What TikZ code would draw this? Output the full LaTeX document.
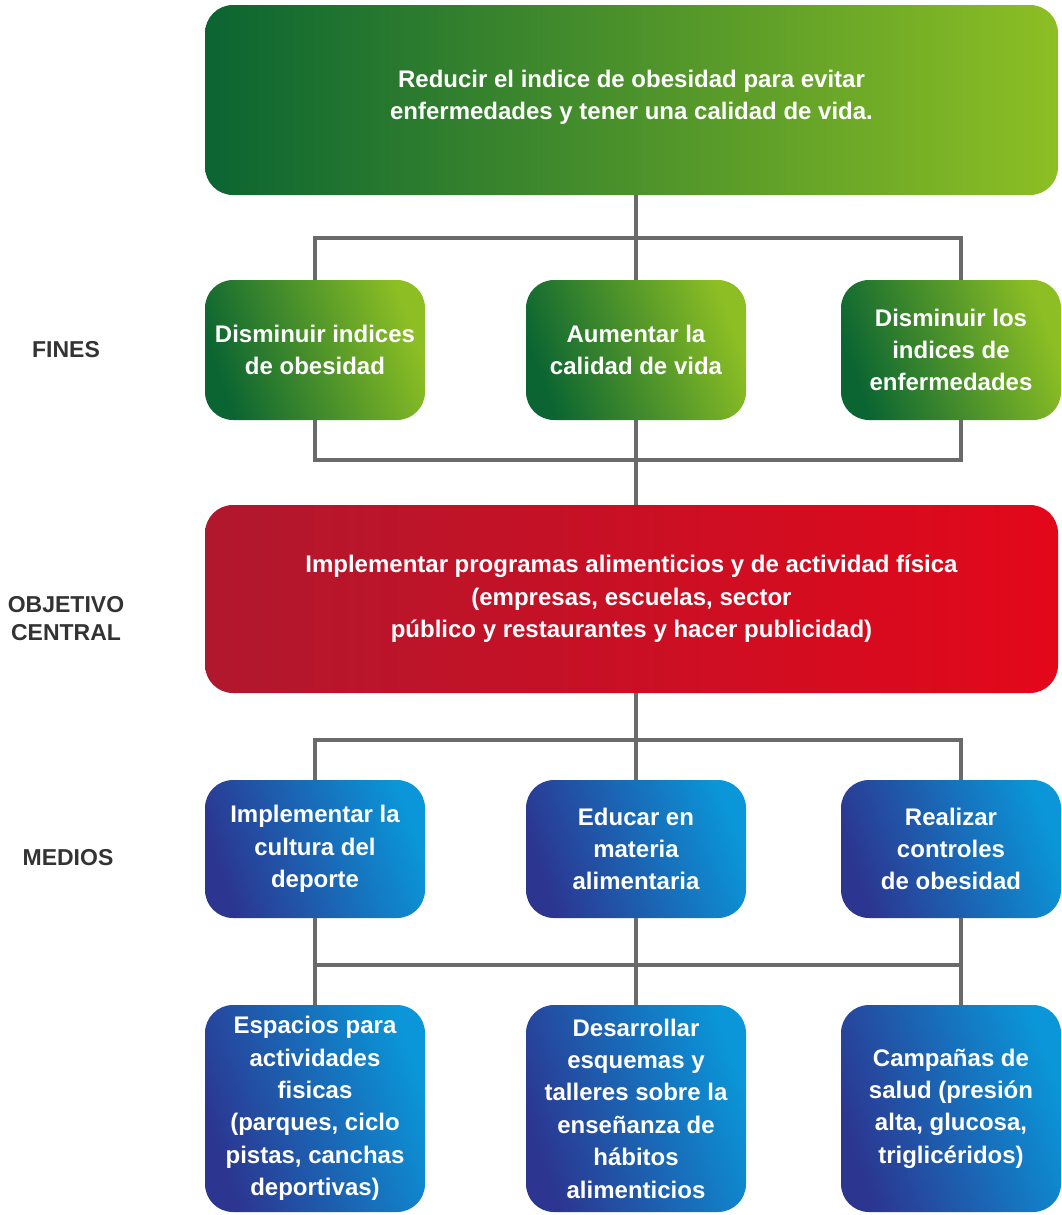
\documentclass[tikz,border=0pt]{standalone}
\usepackage{fontspec}
\setmainfont{Liberation Sans}
\usepackage{tikz}
\usetikzlibrary{
  positioning,
  calc
}
\definecolor{obGreen}{HTML}{0B6532}
\definecolor{obLime}{HTML}{8DBF24}
\definecolor{obWine}{HTML}{B0182E}
\definecolor{obRed}{HTML}{E3071A}
\definecolor{obNavy}{HTML}{2C3590}
\definecolor{obCyan}{HTML}{0A96D8}
\definecolor{obLine}{HTML}{6A6A6A}
\definecolor{obText}{HTML}{333333}
\tikzset{
  obnode/.style={
    rounded corners=14pt, align=center, text=white, inner sep=2pt,
    font=\bfseries\fontsize{12}{16.2}\selectfont
  },
  goalbox/.style={obnode, left color=obGreen, right color=obLime, minimum width=426.5pt, minimum height=95pt},
  finbox/.style={obnode, left color=obGreen, right color=obLime, shading angle=110, minimum width=110pt, minimum height=70pt},
  centralbox/.style={obnode, left color=obWine, right color=obRed, minimum width=426.5pt, minimum height=94pt},
  medbox/.style={obnode, left color=obNavy, right color=obCyan, shading angle=110, minimum width=110pt, minimum height=69pt},
  actbox/.style={medbox, minimum height=103.5pt},
  link/.style={draw=obLine, line width=2.2pt},
  rowlabel/.style={font=\bfseries\fontsize{11.5}{14}\selectfont, text=obText, align=center}
}
\begin{document}
\begin{tikzpicture}[x=0.5pt, y=-0.5pt]
  \useasboundingbox (0,0) rectangle (1061,1215);
  % row labels
  \node[rowlabel] (lfin) at (66,350) {FINES};
  \node[rowlabel] (lobj) at (66,619) {OBJETIVO\\CENTRAL};
  \node[rowlabel] (lmed) at (68,858) {MEDIOS};
  % boxes
  \node[goalbox] (goal) at (631.5,100) {Reducir el indice de obesidad para evitar\\enfermedades y tener una calidad de vida.\\[-11pt]};
  \node[finbox] (fin1) at (315,350) {Disminuir indices\\de obesidad};
  \node[finbox] (fin2) at (636,350) {Aumentar la\\calidad de vida};
  \node[finbox] (fin3) at (951,350) {Disminuir los\\indices de\\enfermedades};
  \node[centralbox] (obj) at (631.5,599) {Implementar programas alimenticios y de actividad física\\(empresas, escuelas, sector\\público y restaurantes y hacer publicidad)};
  \node[medbox] (med1) at (315,849) {Implementar la\\cultura del\\deporte};
  \node[medbox] (med2) at (636,849) {Educar en\\materia\\alimentaria};
  \node[medbox] (med3) at (951,849) {Realizar\\controles\\de obesidad};
  \node[actbox] (act1) at (315,1108.5) {Espacios para\\actividades\\fisicas\\(parques, ciclo\\pistas, canchas\\deportivas)};
  \node[actbox] (act2) at (636,1108.5) {Desarrollar\\esquemas y\\talleres sobre la\\enseñanza de\\hábitos\\alimenticios};
  \node[actbox] (act3) at (951,1108.5) {Campañas de\\salud (presión\\alta, glucosa,\\triglicéridos)};
  % connectors
  \coordinate (busA) at (636,238);
  \coordinate (busB) at (636,460);
  \coordinate (busC) at (636,740);
  \coordinate (busD) at (636,965);
  \draw[link] (busA |- goal.south) -- (busA) -- (fin2.north);
  \draw[link] (fin1.north) |- (busA) -| ([xshift=5pt]fin3.north);
  \draw[link] (fin1.south) |- (busB) -| ([xshift=5pt]fin3.south);
  \draw[link] (fin2.south) -- (fin2.south |- obj.north);
  \draw[link] (busC |- obj.south) -- (busC) -- (med2.north);
  \draw[link] (med1.north) |- (busC) -| ([xshift=5pt]med3.north);
  \draw[link] (med1.south) -- (act1.north);
  \draw[link] (med2.south) -- (act2.north);
  \draw[link] ([xshift=5pt]med3.south) -- ([xshift=5pt]act3.north);
  \draw[link] (med1.south |- busD) -- ([xshift=5pt]med3.south |- busD);
\end{tikzpicture}
\end{document}
